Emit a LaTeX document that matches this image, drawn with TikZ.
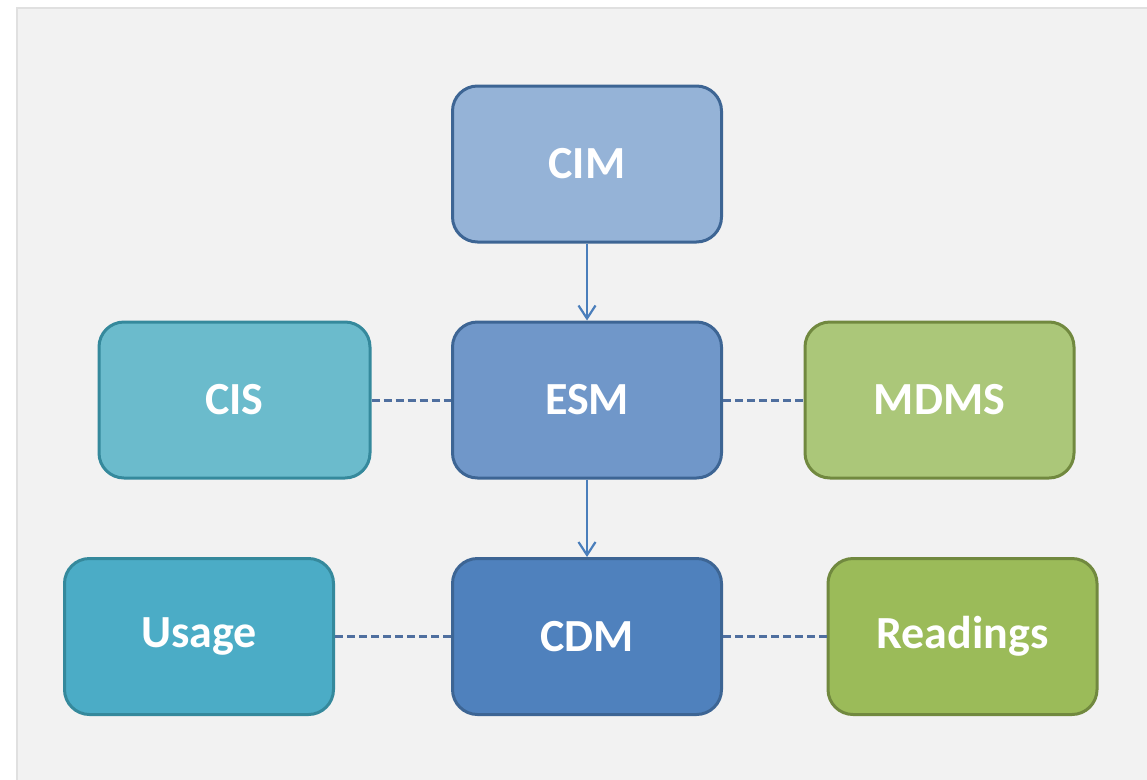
\documentclass[tikz,border=0pt]{standalone}
\usepackage{fontspec}
\setmainfont{Carlito}
\usetikzlibrary{arrows.meta}
\definecolor{panel}{HTML}{F2F2F2}
\definecolor{panelline}{HTML}{E0E0E0}
\definecolor{blueline}{HTML}{3D6594}
\definecolor{tealline}{HTML}{35899C}
\definecolor{greenline}{HTML}{71893F}
\definecolor{cimfill}{HTML}{95B3D7}
\definecolor{esmfill}{HTML}{7097C9}
\definecolor{cdmfill}{HTML}{4F81BD}
\definecolor{cisfill}{HTML}{6BBBCC}
\definecolor{usagefill}{HTML}{4BACC6}
\definecolor{mdmsfill}{HTML}{ABC779}
\definecolor{readfill}{HTML}{9BBB59}
\definecolor{arrowcol}{HTML}{4A7EBB}
\definecolor{dashcol}{HTML}{4F6F9F}
\begin{document}
\begin{tikzpicture}[x=1pt,y=-1pt,
  box/.style={rectangle, rounded corners=25pt, line width=3pt,
    minimum width=269pt, minimum height=156pt, inner sep=0pt,
    text=white, font=\bfseries\fontsize{46}{56}\selectfont},
  bluebox/.style={box, draw=blueline},
  tealbox/.style={box, draw=tealline},
  greenbox/.style={box, draw=greenline},
  flow/.style={draw=arrowcol, line width=2.2pt, -{Straight Barb[length=13pt,width=17pt,line width=2.2pt]}},
  link/.style={draw=dashcol, line width=3pt, dash pattern=on 8pt off 4pt}]
\useasboundingbox (0,0) rectangle (1147,779);
\fill[white] (0,0) rectangle (1147,779);
\filldraw[fill=panel, draw=panelline, line width=1.5pt] (17,8) rectangle (1150,782);
\node[bluebox, fill=cimfill] (cim) at (587,164) {CIM};
\node[bluebox, fill=esmfill] (esm) at (587,400) {ESM};
\node[bluebox, fill=cdmfill] (cdm) at (587,636.5) {CDM};
\node[tealbox, fill=cisfill, minimum width=271pt] (cis) at (234.5,400) {CIS};
\node[tealbox, fill=usagefill] (usage) at (199,636.5) {Usage};
\node[greenbox, fill=mdmsfill] (mdms) at (939.5,400) {MDMS};
\node[greenbox, fill=readfill] (read) at (962.5,636.5) {Readings};
\draw[flow] (cim.south) -- (esm.north);
\draw[flow] (esm.south) -- (cdm.north);
\draw[link] (cis.east) -- (esm.west);
\draw[link] (esm.east) -- (mdms.west);
\draw[link] (usage.east) -- (cdm.west);
\draw[link] (cdm.east) -- (read.west);
\end{tikzpicture}
\end{document}
